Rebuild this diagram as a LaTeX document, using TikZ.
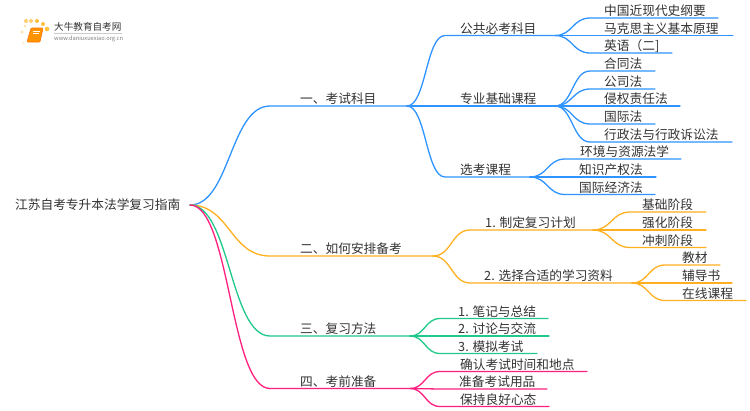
\documentclass[tikz,border=0pt]{standalone}
\usepackage{fontspec}
\setmainfont{Noto Sans CJK SC}
\usetikzlibrary{calc}
\definecolor{cblue}{HTML}{2F94FF}
\definecolor{corange}{HTML}{FFB020}
\definecolor{cgreen}{HTML}{1FC98A}
\definecolor{cpink}{HTML}{FF1F7F}
\definecolor{ctext}{HTML}{333333}
\tikzset{
  lbl/.style={anchor=base west,inner sep=0pt,text=ctext,font=\fontsize{12.7}{14}\selectfont},
  wire/.style={line width=1.3pt,line cap=round,line join=round}
}
% \bra{parent}{name}{curve end x}{line end x}{y}{text x}{text}{colour}
\newcommand{\bra}[8]{%
  \coordinate (#2) at (#4,#5);
  \coordinate (#2s) at (#3,#5);
  \node[lbl] (#2t) at (#6,#5-2.5) {#7};
  \draw[wire,#8] let \p1=(#1),\p2=(#2s) in (\p1) .. controls ({(\x1+\x2)/2},\y1) and ({(\x1+\x2)/2},\y2) .. (\p2) -- (#2);
}
\begin{document}
\begin{tikzpicture}[x=1pt,y=-1pt]
\useasboundingbox (0,0) rectangle (750,410);
\fill[white] (0,0) rectangle (750,410);
% logo
\foreach \a/\b/\r/\c in {25/26/1.5/FFE3A8,22/32/1.7/FFE3A8,26/21/2/FFCF70,31/21/2/FFCF70,37/21/2/FFC040,43/24/2/FFC040,47/29/2.3/FFC040,23.5/43/1.2/FFE9C0}{
  \definecolor{dc}{HTML}{\c}
  \fill[dc] (\a,\b) circle (\r);
}
\draw[rounded corners=1pt,fill=orange!85!yellow,draw=orange!90!red,line width=.6pt] (31,28) -- (43,28) -- (40,42) -- (27,42) -- cycle;
\draw[white,line width=.6pt] (33,31) -- (40,31) (32.5,33) -- (39,33);
\node[anchor=base west,inner sep=0pt,text=ctext,font=\fontsize{9.6}{11}\selectfont] (logot) at (54,30.5) {大牛教育自考网};
\draw[gray!40,line width=.5pt] (54,33.5) -- (122,33.5);
\node[anchor=base west,inner sep=0pt,text=gray,font=\fontsize{5.7}{7}\selectfont] (logou) at (54,40.5) {www.daniuxuexiao.org.cn};
% root
\coordinate (root) at (190,205);
\node[lbl] (roott) at (15,209.5) {江苏自考专升本法学复习指南};
% level 1
\bra{root}{a}{270}{407}{106}{300}{一、考试科目}{cblue}
\bra{root}{b}{270}{433}{256}{300}{二、如何安排备考}{corange}
\bra{root}{c}{270}{410}{336}{300}{三、复习方法}{cgreen}
\bra{root}{d}{270}{410}{388.5}{300}{四、考前准备}{cpink}
% blue
\bra{a}{a1}{445}{555}{35.5}{460}{公共必考科目}{cblue}
\bra{a}{a2}{445}{555}{106}{460}{专业基础课程}{cblue}
\bra{a}{a3}{445}{530}{177}{460}{选考课程}{cblue}
\bra{a1}{a11}{590}{718}{18}{604}{中国近现代史纲要}{cblue}
\bra{a1}{a12}{590}{733}{35.5}{604}{马克思主义基本原理}{cblue}
\bra{a1}{a13}{590}{672}{53}{604}{英语（二]}{cblue}
\bra{a2}{a21}{590}{655}{71}{604}{合同法}{cblue}
\bra{a2}{a22}{590}{655}{89}{604}{公司法}{cblue}
\bra{a2}{a23}{590}{680}{106}{604}{侵权责任法}{cblue}
\bra{a2}{a24}{590}{655}{124}{604}{国际法}{cblue}
\bra{a2}{a25}{590}{732}{142}{604}{行政法与行政诉讼法}{cblue}
\bra{a3}{a31}{565}{681}{159}{580}{环境与资源法学}{cblue}
\bra{a3}{a32}{565}{656}{177}{579}{知识产权法}{cblue}
\bra{a3}{a33}{565}{655}{194.5}{579}{国际经济法}{cblue}
% orange
\bra{b}{b1}{470}{593}{230}{485}{1. 制定复习计划}{corange}
\bra{b}{b2}{470}{632}{283}{484}{2. 选择合适的学习资料}{corange}
\bra{b1}{b11}{630}{706}{212}{642}{基础阶段}{corange}
\bra{b1}{b12}{630}{706}{230}{642}{强化阶段}{corange}
\bra{b1}{b13}{630}{706}{247.5}{642}{冲刺阶段}{corange}
\bra{b2}{b21}{665}{720}{265}{682}{教材}{corange}
\bra{b2}{b22}{665}{732}{283}{682}{辅导书}{corange}
\bra{b2}{b23}{665}{746}{300.5}{682}{在线课程}{corange}
% green
\bra{c}{c1}{440}{548}{318.5}{458}{1. 笔记与总结}{cgreen}
\bra{c}{c2}{440}{549}{336}{458}{2. 讨论与交流}{cgreen}
\bra{c}{c3}{440}{537}{353.5}{458}{3. 模拟考试}{cgreen}
% pink
\bra{d}{d1}{440}{587}{371.5}{460}{确认考试时间和地点}{cpink}
\bra{d}{d2}{440}{547}{389}{459}{准备考试用品}{cpink}
\bra{d}{d3}{440}{549}{406.5}{460}{保持良好心态}{cpink}
\end{tikzpicture}
\end{document}
